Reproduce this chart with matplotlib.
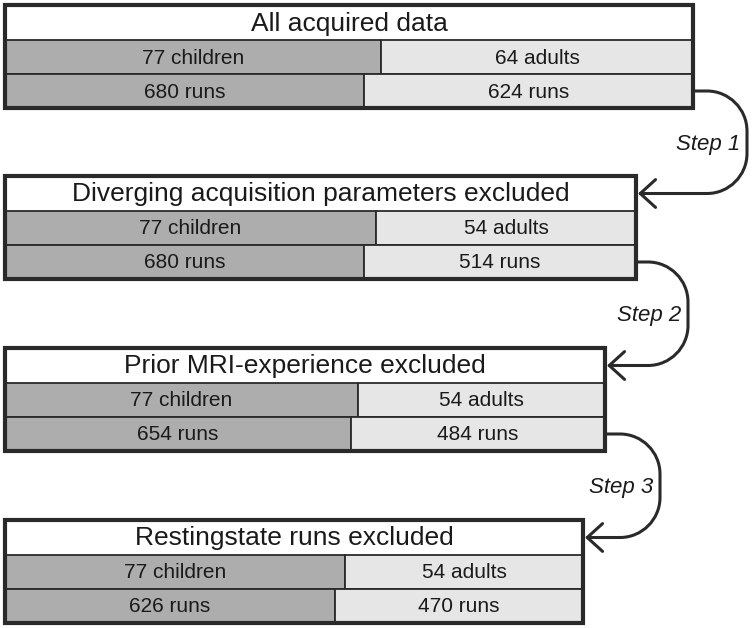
import matplotlib.pyplot as plt
from matplotlib.patches import Rectangle, FancyArrowPatch
from matplotlib.path import Path

plt.rcParams['font.family'] = ['Liberation Sans', 'DejaVu Sans']

# data
titles = ["All acquired data",
          "Diverging acquisition parameters excluded",
          "Prior MRI-experience excluded",
          "Restingstate runs excluded"]
n_children = [77, 77, 77, 77]
n_adults = [64, 54, 54, 54]
runs_children = [680, 680, 654, 626]
runs_adults = [624, 514, 484, 470]
steps = ["Step 1", "Step 2", "Step 3"]

# layout (pixels)
box_left = 5
box_right = [693, 636, 605, 583]
box_top = [5, 176, 348, 520]
split_subj = [381, 376, 358, 345]
split_runs = [364, 364, 351, 335]
curve_right = [747, 688, 660]
head_h, row_h = 35, 34

dark = "#adadad"
light = "#e6e6e6"
edge = "#2a2a2a"
txt = "#1a1a1a"

fig = plt.figure(figsize=(7.54, 6.28), dpi=100)
ax = fig.add_axes([0, 0, 1, 1])
ax.set_xlim(0, 754)
ax.set_ylim(628, 0)
ax.axis("off")

for i in range(4):
    x0, x1, y0 = box_left, box_right[i], box_top[i]
    y1 = y0 + head_h
    y2 = y1 + row_h
    y3 = y2 + row_h
    # subject row
    ax.add_patch(Rectangle((x0, y1), split_subj[i] - x0, row_h, fc=dark, ec=edge, lw=1.3))
    ax.add_patch(Rectangle((split_subj[i], y1), x1 - split_subj[i], row_h, fc=light, ec=edge, lw=1.3))
    # runs row
    ax.add_patch(Rectangle((x0, y2), split_runs[i] - x0, row_h, fc=dark, ec=edge, lw=1.3))
    ax.add_patch(Rectangle((split_runs[i], y2), x1 - split_runs[i], row_h, fc=light, ec=edge, lw=1.3))
    # outer frame
    ax.add_patch(Rectangle((x0, y0), x1 - x0, y3 - y0, fc="none", ec=edge, lw=3, zorder=5))

    ax.text((x0 + x1) / 2, y0 + head_h / 2 + 1, titles[i], ha="center", va="center",
            fontsize=19, color=txt)
    ax.text((x0 + split_subj[i]) / 2, y1 + row_h / 2 + 1, f"{n_children[i]} children",
            ha="center", va="center", fontsize=15, color=txt)
    ax.text((split_subj[i] + x1) / 2, y1 + row_h / 2 + 1, f"{n_adults[i]} adults",
            ha="center", va="center", fontsize=15, color=txt)
    ax.text((x0 + split_runs[i]) / 2, y2 + row_h / 2 + 1, f"{runs_children[i]} runs",
            ha="center", va="center", fontsize=15, color=txt)
    ax.text((split_runs[i] + x1) / 2, y2 + row_h / 2 + 1, f"{runs_adults[i]} runs",
            ha="center", va="center", fontsize=15, color=txt)

# connecting curves
r = 40
k = 0.55 * r
for i in range(3):
    xs, ys = box_right[i] + 1, box_top[i] + head_h + row_h * 1.5
    xe, ye = box_right[i + 1] + 2, box_top[i + 1] + head_h / 2
    xr = curve_right[i]
    verts = [(xs, ys), (xr - r, ys),
             (xr - r + k, ys), (xr, ys + r - k), (xr, ys + r),
             (xr, ye - r),
             (xr, ye - r + k), (xr - r + k, ye), (xr - r, ye),
             (xe, ye)]
    codes = [Path.MOVETO, Path.LINETO,
             Path.CURVE4, Path.CURVE4, Path.CURVE4,
             Path.LINETO,
             Path.CURVE4, Path.CURVE4, Path.CURVE4,
             Path.LINETO]
    arr = FancyArrowPatch(path=Path(verts, codes), arrowstyle="->,head_length=0.55,head_width=0.5",
                          mutation_scale=20, color=edge, lw=2.2)
    ax.add_patch(arr)
    ax.text(xr - 7, (ys + ye) / 2 + 2, steps[i], ha="right", va="center",
            fontsize=16, style="italic", color=txt)

fig.savefig("out.png", dpi=100)
